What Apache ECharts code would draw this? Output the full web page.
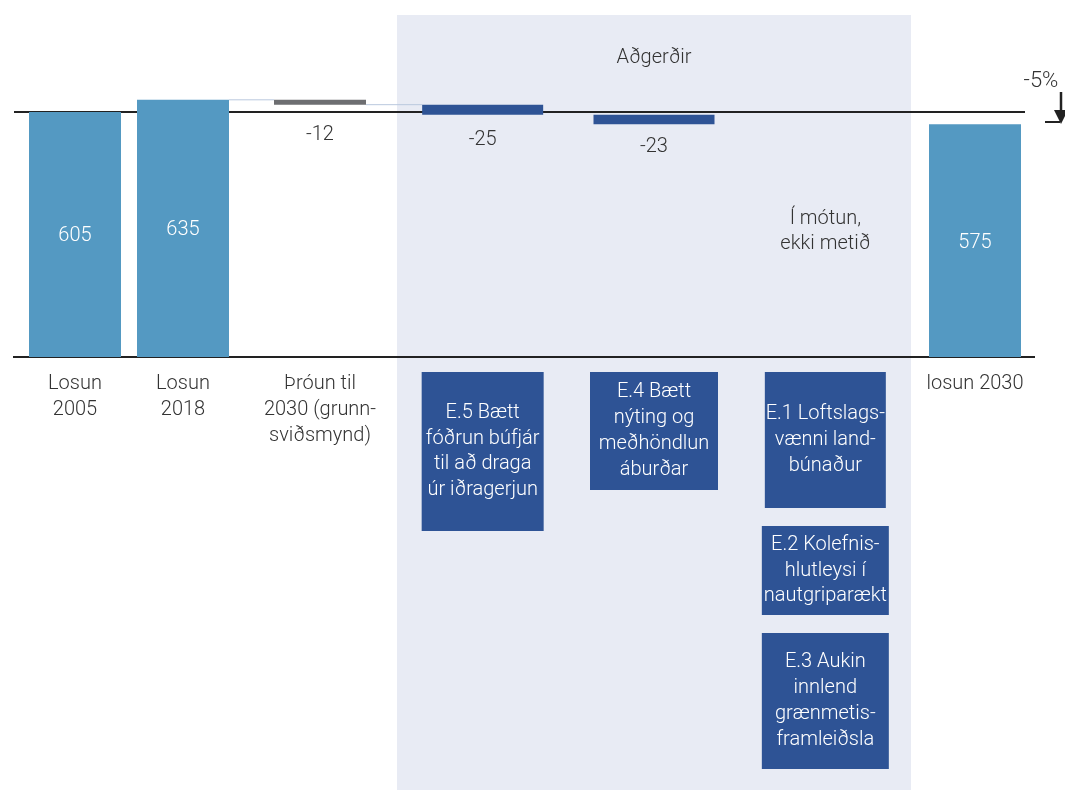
<!DOCTYPE html>
<html><head><meta charset="utf-8">
<script src="https://cdn.jsdelivr.net/npm/echarts@6/dist/echarts.min.js"></script>
<style>html,body{margin:0;padding:0;background:#fff}#c{width:1065px;height:790px}</style>
</head><body><div id="c"></div>
<script>
// ---------------- DATA ----------------
const totalCategories = ['Losun\n2005', 'Losun\n2018'];
const emissionTotals = [605, 635];          // Losun 2005, Losun 2018
const baselineCategories = ['Þróun til\n2030 (grunn-\nsviðsmynd)'];
const baselineChange = -12;                 // Þróun til 2030 (grunnsviðsmynd)
const measureCategories = ['E.5', 'E.4', 'E.1–E.3'];
const measureChanges = [-25, -23, null];    // null = í mótun, ekki metið
const measureBoxTexts = [
  ['E.5 Bætt\nfóðrun búfjár\ntil að draga\núr iðragerjun'],
  ['E.4 Bætt\nnýting og\nmeðhöndlun\náburðar'],
  ['E.1 Loftslags-\nvænni land-\nbúnaður', 'E.2 Kolefnis-\nhlutleysi í\nnautgriparækt', 'E.3 Aukin\ninnlend\ngrænmetis-\nframleiðsla']
];
const endCategories = ['losun 2030'];
const endTotals = [575];
const referenceValue = 605;
const reductionLabel = '-5%';
const sectionTitle = 'Aðgerðir';
const unassessedNote = 'Í mótun,\nekki metið';

// ---------------- STYLE ----------------
const FONT = 'Roboto, "Noto Sans", sans-serif';
const FW = 300;
const FS = 20;
const COL = { bar: '#5499c2', gray: '#6d6e71', dark: '#2e5395', shade: '#e8ebf4', text: '#333333', line: '#222222', conn: '#b9c8de' };
const boxHeights = [[159], [118], [136, 89, 136]];
const boxWidths = [[122], [128], [121, 127, 127]];
const BOX_TOP = 15, BOX_GAP = 18;
const W_NARROW = 92, W_WIDE = 121;
const fontStr = (size) => FW + ' ' + size + 'px ' + FONT;

const insideLabel = v => ({ show: true, position: 'inside', offset: [0, 2], color: '#fff', fontSize: FS, fontWeight: FW, fontFamily: FONT, formatter: String(v) });
const deltaLabel = (d, dist) => ({ show: true, position: 'bottom', distance: dist, color: COL.text, fontSize: FS, fontWeight: FW, fontFamily: FONT, formatter: String(d) });

// ---------------- WATERFALL ----------------
let level = emissionTotals[emissionTotals.length - 1] + baselineChange;
const totalVis = emissionTotals.map(v => ({ value: v, itemStyle: { color: COL.bar }, label: insideLabel(v) }));
const baseBase = [level];
const baseVis = [{ value: -baselineChange, itemStyle: { color: COL.gray }, label: deltaLabel(baselineChange, 20) }];
const midBase = [], midVis = [];
const deltaDist = [15, 13];
measureChanges.forEach((d, i) => {
  if (d === null) { midBase.push('-'); midVis.push('-'); return; }
  level += d;
  midBase.push(level);
  midVis.push({ value: -d, itemStyle: { color: COL.dark }, label: deltaLabel(d, deltaDist[i]) });
});
const endVis = endTotals.map(v => ({ value: v, itemStyle: { color: COL.bar }, label: insideLabel(v) }));

const Y_MAX = 700;
const gridTop = 357 - Y_MAX * 0.405, gridBottom = 790 - 357;
const yAx = i => ({ gridIndex: i, type: 'value', min: 0, max: Y_MAX, show: false });
const xAx = (i, cats, showLabel) => ({
  gridIndex: i, type: 'category', data: cats,
  axisLine: { show: false }, axisTick: { show: false }, splitLine: { show: false },
  axisLabel: { show: showLabel, interval: 0, margin: 14, color: COL.text, fontSize: FS, fontWeight: FW, lineHeight: 26, fontFamily: FONT }
});

const chart = echarts.init(document.getElementById('c'), null, { renderer: 'canvas' });
chart.setOption({
  animation: false,
  textStyle: { fontFamily: FONT },
  grid: [
    { left: 21, width: 216, top: gridTop, bottom: gridBottom },
    { left: 260, width: 120, top: gridTop, bottom: gridBottom },
    { left: 397, width: 514, top: gridTop, bottom: gridBottom },
    { left: 911, width: 128, top: gridTop, bottom: gridBottom }
  ],
  xAxis: [xAx(0, totalCategories, true), xAx(1, baselineCategories, true), xAx(2, measureCategories, false), xAx(3, endCategories, true)],
  yAxis: [yAx(0), yAx(1), yAx(2), yAx(3)],
  series: [
    { type: 'bar', xAxisIndex: 0, yAxisIndex: 0, barWidth: W_NARROW, data: totalVis },
    { type: 'bar', xAxisIndex: 1, yAxisIndex: 1, stack: 'a', barWidth: W_NARROW, data: baseBase, itemStyle: { color: 'transparent' }, silent: true },
    { type: 'bar', xAxisIndex: 1, yAxisIndex: 1, stack: 'a', barWidth: W_NARROW, data: baseVis },
    { type: 'bar', xAxisIndex: 2, yAxisIndex: 2, stack: 'b', barWidth: W_WIDE, data: midBase, itemStyle: { color: 'transparent' }, silent: true },
    { type: 'bar', xAxisIndex: 2, yAxisIndex: 2, stack: 'b', barWidth: W_WIDE, data: midVis },
    { type: 'bar', xAxisIndex: 3, yAxisIndex: 3, barWidth: W_NARROW, data: endVis }
  ]
});

// ---------------- OVERLAY GRAPHICS ----------------
const px = (g, cat, val) => chart.convertToPixel({ gridIndex: g }, [cat, val]);
const yRef = px(0, 0, referenceValue)[1];
const yZero = px(0, 0, 0)[1];
const g = [];
g.push({ type: 'rect', z: -10, shape: { x: 397, y: 15, width: 514, height: 775 }, style: { fill: COL.shade }, silent: true });
g.push({ type: 'line', z: 1, shape: { x1: 14, y1: yRef, x2: 1025, y2: yRef }, style: { stroke: COL.line, lineWidth: 2 } });
g.push({ type: 'line', z: 1, shape: { x1: 13, y1: yZero, x2: 1035, y2: yZero }, style: { stroke: COL.line, lineWidth: 2 } });
// connectors
const lvl0 = emissionTotals[emissionTotals.length - 1];
const p2018 = px(0, emissionTotals.length - 1, lvl0);
const pGray = px(1, 0, lvl0);
g.push({ type: 'line', z: 1, shape: { x1: p2018[0] + W_NARROW / 2, y1: p2018[1], x2: pGray[0] - W_NARROW / 2, y2: pGray[1] }, style: { stroke: COL.conn, lineWidth: 1 } });
const lvl1 = lvl0 + baselineChange;
const pGrayB = px(1, 0, lvl1);
const pE5 = px(2, 0, lvl1);
g.push({ type: 'line', z: 1, shape: { x1: pGrayB[0] + W_NARROW / 2, y1: pGrayB[1], x2: pE5[0] - W_WIDE / 2, y2: pE5[1] }, style: { stroke: COL.conn, lineWidth: 1 } });
// measure boxes
measureBoxTexts.forEach((texts, ci) => {
  const cx = px(2, ci, 0)[0];
  let top = yZero + BOX_TOP;
  texts.forEach((t, k) => {
    const w = boxWidths[ci][k], h = boxHeights[ci][k];
    g.push({ type: 'rect', z: 5, shape: { x: cx - w / 2, y: top, width: w, height: h }, style: { fill: COL.dark } });
    g.push({ type: 'text', z: 6, x: cx, y: top + h / 2, style: { text: t, fill: '#fff', font: fontStr(FS), lineHeight: 25.7, align: 'center', verticalAlign: 'middle' } });
    top += h + BOX_GAP;
  });
});
// annotations
g.push({ type: 'text', z: 6, x: px(2, 1, 0)[0], y: 58, style: { text: sectionTitle, fill: COL.text, font: fontStr(FS), align: 'center', verticalAlign: 'middle' } });
g.push({ type: 'text', z: 6, x: px(2, 2, 0)[0], y: 231, style: { text: unassessedNote, fill: COL.text, font: fontStr(FS), lineHeight: 25, align: 'center', verticalAlign: 'middle' } });
g.push({ type: 'text', z: 6, x: 1041, y: 81, style: { text: reductionLabel, fill: COL.text, font: fontStr(22), align: 'center', verticalAlign: 'middle' } });
g.push({ type: 'line', z: 6, shape: { x1: 1061, y1: 92, x2: 1061, y2: 114 }, style: { stroke: COL.line, lineWidth: 2.5 } });
g.push({ type: 'polygon', z: 6, shape: { points: [[1054, 110], [1068, 110], [1061, 124]] }, style: { fill: COL.line } });
g.push({ type: 'line', z: 6, shape: { x1: 1045, y1: 122, x2: 1060, y2: 122 }, style: { stroke: COL.line, lineWidth: 2 } });
chart.setOption({ graphic: g });
</script>
</body></html>
